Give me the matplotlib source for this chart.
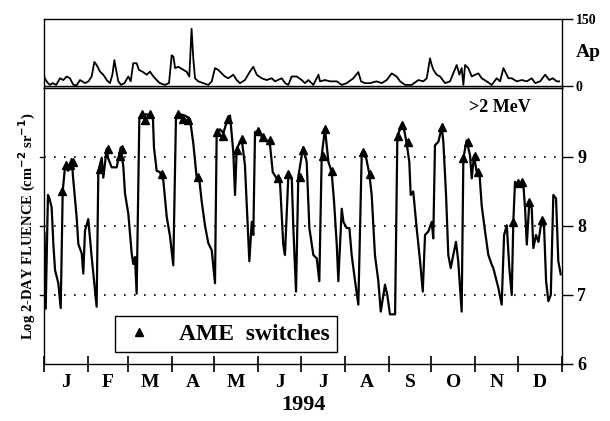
import matplotlib.pyplot as plt

plt.rcParams['font.family'] = ['Liberation Serif', 'DejaVu Serif']
plt.rcParams['font.weight'] = 'bold'
plt.rcParams['mathtext.default'] = 'bf'

# day of year / log 2-day fluence (>2 MeV)
flu_day = [0.3, 1.2, 2.8, 3.7, 5.4, 6.6, 7.8, 10.1, 11.8, 13.2, 14.8, 17.1, 19.5, 20.6, 23.0, 24.2,
           26.6, 27.7, 28.9, 31.2, 33.6, 35.9, 37.1, 38.3, 40.7, 41.8, 44.2, 45.1, 47.7, 51.2, 54.1,
           55.9, 57.1, 59.4, 61.8, 62.9, 64.1, 65.3, 67.2, 69.1, 71.9, 74.7, 76.8, 77.5, 79.4, 81.7,
           84.1, 86.5, 88.8, 91.1, 93.0, 95.8, 99.4, 102.9, 105.2, 107.6, 109.2, 111.1, 113.5, 115.8,
           118.2, 120.5, 121.7, 124.0, 126.4, 129.9, 131.1, 133.4, 134.6, 135.8, 139.3, 141.6, 143.3,
           144.7, 146.4, 147.5, 148.7, 151.0, 153.4, 156.9, 159.3, 161.2, 164.0, 166.3, 168.6, 169.8,
           172.2, 174.6, 175.7, 177.6, 179.2, 181.6, 182.7, 185.1, 187.0, 189.8, 192.2, 194.0, 195.7,
           198.0, 200.4, 202.7, 204.4, 206.3, 207.4, 209.8, 211.0, 213.3, 215.2, 216.8, 219.2, 221.5,
           223.9, 226.2, 229.2, 230.9, 233.2, 235.6, 237.3, 240.3, 241.9, 243.8, 247.4, 249.0, 252.1,
           253.2, 255.6, 257.4, 258.4, 260.2, 262.6, 265.0, 266.9, 268.5, 270.8, 273.2, 274.3, 275.5,
           277.9, 280.3, 281.4, 283.3, 284.9, 286.6, 288.4, 290.3, 291.9, 294.3, 295.5, 297.8, 300.2,
           301.4, 303.0, 304.9, 306.8, 308.4, 310.8, 313.1, 315.5, 316.6, 320.2, 322.5, 324.2, 326.1,
           327.9, 329.6, 330.7, 331.9, 334.3, 337.8, 339.0, 340.2, 342.0, 343.7, 344.8, 346.7, 348.4,
           350.7, 352.4, 353.8, 355.4, 357.1, 358.9, 360.8, 362.4, 364.1]
flu_val = [7.9, 6.8, 8.45, 8.41, 8.27, 7.74, 7.36, 7.17, 6.81, 8.51, 8.85, 8.8, 8.97, 8.68, 8.13, 7.74,
           7.6, 7.31, 7.93, 8.1, 7.55, 7.07, 6.83, 8.8, 8.99, 8.7, 9.12, 8.99, 8.85, 8.85, 9.14,
           8.86, 8.47, 8.18, 7.6, 7.45, 7.55, 7.02, 9.57, 9.6, 9.62, 9.6, 9.55, 9.14, 8.8, 8.78,
           8.66, 8.13, 7.85, 7.43, 9.57, 9.62, 9.6, 9.55, 9.2, 8.7, 8.72, 8.36, 8.0, 7.75,
           7.65, 7.17, 9.38, 9.4, 9.35, 9.58, 9.6, 9.07, 8.45, 9.12, 9.26, 8.88, 8.11,
           7.49, 8.06, 7.87, 9.36, 9.38, 9.29, 9.24, 9.17, 8.78, 8.69, 8.64, 7.73, 7.58,
           8.74, 8.69, 7.97, 7.05, 8.71, 9.02, 9.14, 8.93, 7.97, 7.58, 7.53, 7.2, 9.02,
           9.41, 8.93, 8.78, 8.35, 7.73, 7.2, 8.25, 8.06, 7.97, 7.97, 7.58, 7.2, 6.86,
           9.05, 9.07, 8.76, 8.45, 7.58, 7.2, 6.76, 7.15, 7.0, 6.72, 6.72, 9.31, 9.46,
           9.46, 9.19, 8.93, 8.45, 8.5, 7.97, 7.49, 7.05, 7.87, 7.92, 8.06, 7.82, 9.17,
           9.22, 9.43, 9.22, 8.45, 7.58, 7.39, 7.58, 7.77, 7.49, 6.76, 8.98, 9.24, 9.02,
           8.69, 9.02, 8.78, 8.78, 8.3, 7.92, 7.58, 7.44, 7.39, 7.1, 6.86, 7.87, 8.01,
           7.39, 7.0, 8.06, 8.64, 8.59, 8.59, 8.25, 7.73, 8.35, 8.25, 7.68, 7.87, 7.77,
           8.09, 7.97, 7.2, 6.91, 7.0, 8.45, 8.4, 7.49, 7.3]

# AME switch times
ame_day = [12.5, 15.5, 18.3, 20.2, 39.5, 45.3, 53.6, 54.8, 68.9, 71.2, 74.7, 82.9, 94.6, 98.2,
           101.7, 108.7, 121.7, 126.4, 129.9, 135.8, 139.3, 151.0, 154.5, 159.3, 165.1, 172.2,
           180.4, 182.7, 196.4, 198.0, 202.7, 225.0, 229.7, 249.7, 252.1, 256.7, 280.3, 295.5,
           299.0, 303.7, 306.1, 330.7, 334.3, 336.7, 342.0, 350.7]
ame_val = [8.5, 8.88, 8.88, 8.93, 8.83, 9.12, 9.02, 9.12, 9.62, 9.53, 9.62, 8.76, 9.62, 9.55,
           9.53, 8.71, 9.36, 9.31, 9.55, 9.1, 9.26, 9.38, 9.29, 9.24, 8.69, 8.76,
           8.71, 9.1, 9.02, 9.41, 8.8, 9.07, 8.76, 9.31, 9.46, 9.22, 9.43, 8.98,
           9.22, 9.02, 8.78, 8.06, 8.62, 8.64, 8.35, 8.09]

# daily Ap index
ap_day = [-1.2, 0.5, 1.9, 4.0, 6.2, 8.6, 11.3, 13.6, 16.0, 18.3, 20.7, 23.0, 25.4, 28.9, 31.3,
          33.6, 35.5, 37.1, 39.5, 41.8, 44.2, 46.5, 48.2, 49.6, 50.8, 52.4, 54.3, 56.7, 59.4,
          61.1, 62.9, 65.3, 66.9, 69.3, 72.4, 74.7, 77.1, 79.4, 81.7, 85.2, 88.1, 90.0, 91.2,
          92.4, 94.7, 98.2, 100.5, 102.4, 104.0, 105.2, 106.4, 108.7, 112.3, 115.8, 118.2, 120.5,
          122.8, 125.2, 127.5, 129.9, 133.4, 135.8, 138.1, 141.6, 145.1, 147.5, 149.9, 153.4,
          156.9, 160.5, 162.8, 167.5, 169.9, 172.2, 174.5, 178.1, 181.6, 183.9, 186.3, 189.8,
          193.4, 194.5, 198.0, 201.6, 206.3, 209.8, 213.3, 218.0, 221.5, 223.4, 226.2, 229.7,
          234.4, 238.0, 241.5, 245.0, 248.5, 250.9, 254.4, 259.1, 263.8, 267.3, 269.7, 272.0,
          273.2, 274.4, 276.7, 279.1, 282.6, 286.1, 290.8, 292.7, 294.3, 295.5, 296.7, 299.0,
          301.4, 303.7, 306.1, 308.4, 311.9, 315.5, 319.0, 321.4, 323.7, 327.3, 329.6, 333.1,
          336.7, 340.2, 343.7, 346.1, 349.6, 353.1, 356.1, 358.5, 361.3, 363.0]
ap_val = [43, 17, 10, 2, 6, 2, 17, 13, 21, 17, 2, 1, 13, 6, 10,
          21, 54, 47, 32, 25, 13, 6, 25, 58, 36, 10, 2, 6, 21,
          10, 51, 51, 36, 32, 25, 32, 21, 13, 6, 2, 6, 69, 66,
          40, 43, 36, 32, 21, 129, 62, 17, 10, 6, 2, 10, 40,
          36, 28, 21, 17, 25, 13, 6, 13, 32, 43, 25, 17,
          13, 17, 10, 17, 6, 2, 21, 21, 13, 6, 13, 2,
          25, 10, 13, 10, 10, 2, 6, 17, 31, 10, 6, 6,
          10, 6, 13, 28, 21, 10, 2, 2, 13, 10, 17, 62,
          47, 36, 25, 21, 6, 10, 47, 25, 40, 2, 47, 40,
          21, 25, 28, 17, 10, 2, 17, 10, 40, 17, 17, 10,
          13, 10, 17, 6, 10, 25, 13, 17, 10, 10]

month_edges = [0, 31, 59, 90, 120, 151, 181, 212, 243, 273, 304, 334, 365]
month_labels = ['J', 'F', 'M', 'A', 'M', 'J', 'J', 'A', 'S', 'O', 'N', 'D']

fig = plt.figure(figsize=(6.1, 4.21), dpi=100)
ax_ap = fig.add_axes([0.0721, 0.791, 0.8492, 0.1627])
ax = fig.add_axes([0.0721, 0.1354, 0.8492, 0.6556])

# Ap panel
ax_ap.plot(ap_day, ap_val, color='black', lw=1.3)
ax_ap.set_xlim(0, 365)
ax_ap.set_ylim(-5, 150)
ax_ap.axhline(0, color='black', lw=1.0)
ax_ap.set_xticks([])
ax_ap.yaxis.tick_right()
ax_ap.set_yticks([0, 150])
ax_ap.set_yticklabels(['0', '150'], fontsize=10, fontweight='bold')
ax_ap.tick_params(axis='y', direction='out', length=8, width=1, pad=2)
ax_ap.text(1.05, 0.52, 'Ap', transform=ax_ap.transAxes, fontsize=14,
           fontweight='bold', va='center', ha='center')
for s in ax_ap.spines.values():
    s.set_linewidth(1.0)

# fluence panel
ax.plot(flu_day, flu_val, color='black', lw=1.6)
ax.plot(ame_day, ame_val, linestyle='none', marker='^', color='black', ms=6)
ax.set_xlim(0, 365)
ax.set_ylim(6, 10)
for v in [7, 8, 9]:
    ax.axhline(v, color='black', lw=1.2, linestyle=(0, (1, 5)))
ax.yaxis.tick_right()
ax.set_yticks([6, 7, 8, 9])
ax.set_yticklabels(['6', '7', '8', '9'], fontsize=13, fontweight='bold')
ax.tick_params(axis='y', direction='out', length=8, width=1, pad=3)
for v in [7, 8, 9]:
    ax.plot([-2.5, 0], [v, v], color='black', lw=1, clip_on=False)

ax.set_xticks(month_edges)
ax.set_xticklabels([])
ax.tick_params(axis='x', direction='inout', length=12, width=1.2)
for i, m in enumerate(month_labels):
    ax.text((month_edges[i] + month_edges[i + 1]) / 2, -0.036, m, transform=ax.get_xaxis_transform(),
            ha='center', va='top', fontsize=14, fontweight='bold')
ax.text(0.5, -0.112, '1994', transform=ax.transAxes, ha='center', va='top',
        fontsize=16, fontweight='bold')
ax.set_ylabel('Log 2-DAY FLUENCE (cm$^{-2}$ sr$^{-1}$)', fontsize=10.5, fontweight='bold', labelpad=4)
ax.text(0.88, 0.93, '>2 MeV', transform=ax.transAxes, ha='center', va='center',
        fontsize=13, fontweight='bold')
for s in ax.spines.values():
    s.set_linewidth(1.0)

ax.legend([plt.Line2D([], [], linestyle='none', marker='^', color='black', ms=6)],
          ['AME  switches'], loc='lower left', bbox_to_anchor=(0.137, 0.043),
          borderaxespad=0, frameon=True, fancybox=False, edgecolor='black', framealpha=1,
          prop={'family': 'Liberation Serif', 'weight': 'bold', 'size': 17},
          handlelength=1.4, handletextpad=1.0, borderpad=0.3)

fig.savefig('out.png', dpi=100)
